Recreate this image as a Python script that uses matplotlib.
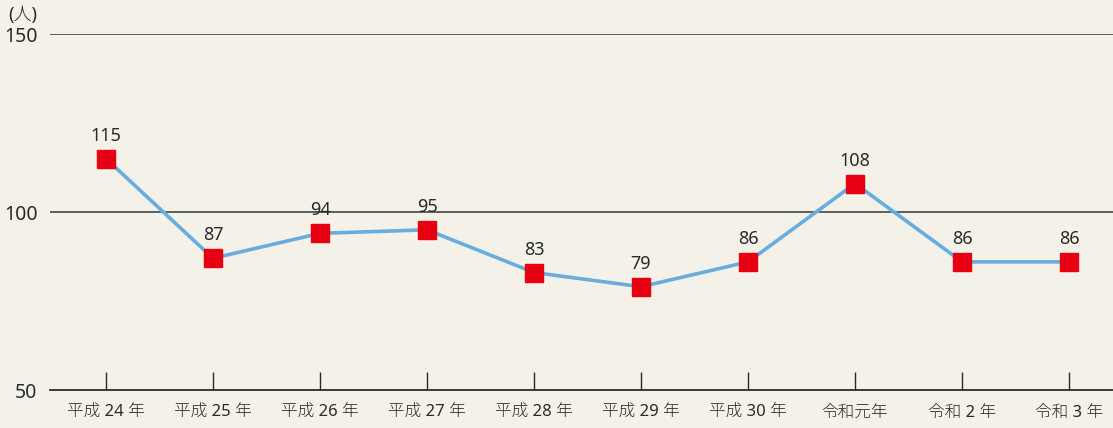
import matplotlib
matplotlib.use("Agg")
import matplotlib.pyplot as plt

plt.rcParams['font.family'] = ['Noto Sans', 'Noto Sans CJK JP', 'DejaVu Sans']
plt.rcParams['font.weight'] = 'light'

# data
years = ['平成 24 年', '平成 25 年', '平成 26 年', '平成 27 年', '平成 28 年',
         '平成 29 年', '平成 30 年', '令和元年', '令和 2 年', '令和 3 年']
values = [115, 87, 94, 95, 83, 79, 86, 108, 86, 86]

bg = '#f4f1e9'
txt = '#2a2a2a'
fig = plt.figure(figsize=(11.13, 4.28), dpi=100, facecolor=bg)
ax = fig.add_axes([50 / 1113, 38 / 428, 1063 / 1113, 356 / 428])
ax.set_facecolor(bg)

x = list(range(len(values)))
ax.plot(x, values, color='#68ade0', linewidth=2.6, zorder=2)
ax.plot(x, values, linestyle='none', marker='s', markersize=12.3,
        color='#e60012', zorder=3)

for xi, v in zip(x, values):
    ax.annotate(str(v), (xi, v), xytext=(0, 10), textcoords='offset points',
                ha='center', va='bottom', fontsize=13, color=txt)

ax.set_ylim(50, 150)
ax.set_xlim(-0.523, 9.41)
ax.set_yticks([50, 100, 150])
ax.tick_params(axis='y', length=0, labelsize=14, pad=9, labelcolor=txt)
ax.set_xticks(x)
ax.set_xticklabels(years)
ax.tick_params(axis='x', direction='in', length=13, width=1, color=txt,
               labelsize=12, pad=11, labelcolor=txt)

for yv in [100, 150]:
    ax.axhline(yv, color='#5e5e5e', linewidth=1.4, zorder=1)

for s in ['top', 'right', 'left']:
    ax.spines[s].set_visible(False)
ax.spines['bottom'].set_color(txt)
ax.spines['bottom'].set_linewidth(1.3)

fig.text(8 / 1113, 1 - 15 / 428, '(人)', fontsize=13, color=txt,
         va='center', ha='left')

fig.savefig('out.png', dpi=100, facecolor=bg)
